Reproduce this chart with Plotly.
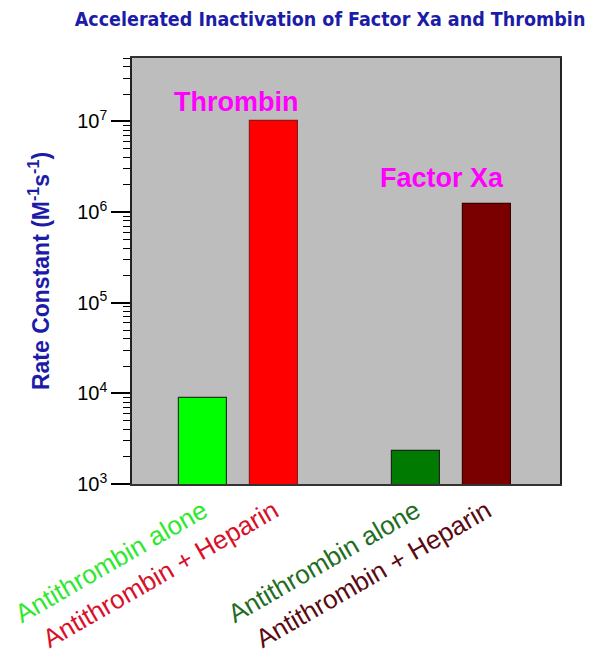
import plotly.graph_objects as go

categories = ["Antithrombin alone", "Antithrombin + Heparin", "Antithrombin alone", "Antithrombin + Heparin"]
positions = [0, 1, 3, 4]
rate_constants = [8.9e3, 1.0e7, 2.3e3, 1.23e6]
bar_colors = ["#00ff00", "#ff0000", "#007a00", "#7a0000"]
label_colors = ["#2ee82e", "#d8102a", "#1f6e1f", "#5a0a12"]
outline_colors = ["#1a3a1a", "#8a1a1a", "#1a2a1a", "#3a0000"]
y_tickvals = [1e3, 1e4, 1e5, 1e6, 1e7]
y_ticktext = ["10<sup>3</sup>", "10<sup>4</sup>", "10<sup>5</sup>", "10<sup>6</sup>", "10<sup>7</sup>"]
group_labels = ["Thrombin", "Factor Xa"]
group_label_x = [0.46, 3.37]
group_label_y = [7.216, 6.377]

fig = go.Figure()
fig.add_trace(go.Bar(
    x=positions, y=rate_constants, width=0.676,
    marker=dict(color=bar_colors, line=dict(color=outline_colors, width=1.2)),
))

ticktext = [f'<span style="color:{c}">{t}</span>' for t, c in zip(categories, label_colors)]

fig.update_layout(
    width=602, height=645,
    margin=dict(l=124, r=50, t=50, b=169),
    paper_bgcolor="white",
    plot_bgcolor="#bdbdbd",
    showlegend=False,
    bargap=0,
    title=dict(
        text="<b>Accelerated Inactivation of Factor Xa and Thrombin</b>",
        x=0.535, xanchor="center", y=0.982, yanchor="middle",
        font=dict(family="DejaVu Sans Condensed", size=19.5, color="#1c1ca8"),
    ),
    font=dict(family="Liberation Sans, Arial", color="black"),
)

fig.update_xaxes(
    range=[-1, 5.03], automargin=False, ticklabeloverflow="allow",
    tickvals=positions, ticktext=ticktext, tickangle=-30,
    tickfont=dict(size=26, family="Liberation Sans, Arial"),
    ticks="", showgrid=False, zeroline=False,
    showline=True, linecolor="#333", linewidth=1.5, mirror=True,
)

fig.update_yaxes(
    type="log", range=[3, 7.7], automargin=False,
    tickvals=y_tickvals, ticktext=y_ticktext,
    tickfont=dict(size=20, color="black"),
    ticks="outside", ticklen=19, tickwidth=1.5, tickcolor="black",
    minor=dict(ticks="outside", ticklen=7, tickcolor="black", tickwidth=1, dtick="D1", showgrid=False),
    showgrid=False, zeroline=False,
    showline=True, linecolor="#222", linewidth=1.5, mirror=True,
    title=dict(text="<b>Rate Constant (M<sup>-1</sup>s<sup>-1</sup>)</b>",
               font=dict(size=23, color="#1c1ca8"), standoff=21),
)

for txt, gx, gy in zip(group_labels, group_label_x, group_label_y):
    fig.add_annotation(x=gx, y=gy, xref="x", yref="y", text=f"<b>{txt}</b>",
                       showarrow=False, font=dict(size=27, color="#ff00ff", family="Liberation Sans, Arial"),
                       xanchor="center", yanchor="middle")

fig.write_html("out.html")
